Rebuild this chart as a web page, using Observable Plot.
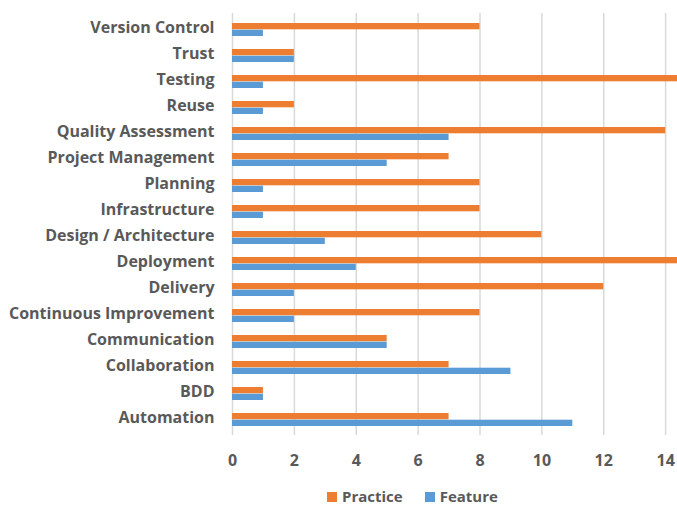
<!DOCTYPE html>
<html>
<head>
<meta charset="utf-8">
<script src="https://cdn.jsdelivr.net/npm/d3@7"></script>
<script src="https://cdn.jsdelivr.net/npm/@observablehq/plot@0.6"></script>
<style>
  html, body { margin: 0; padding: 0; background: #fff; overflow: hidden; }
  #wrap { width: 740px; }
  #chart svg { display: block; }
  .legend { margin-left: 327px; height: 19px; line-height: 19px; display: flex; align-items: center;
            font-family: "Open Sans", sans-serif; font-size: 15px; font-weight: bold; color: #595959; white-space: nowrap; }
  .legend .sw { display: inline-block; width: 10px; height: 10px; margin-right: 5px; }
  .legend .item { display: inline-flex; align-items: center; margin-right: 22px; }
</style>
</head>
<body>
<div id="wrap">
  <div id="chart"></div>
  <div class="legend">
    <span class="item"><span class="sw" style="background:#ED7D31"></span>Practice</span>
    <span class="item"><span class="sw" style="background:#5B9BD5"></span>Feature</span>
  </div>
</div>
<script>
const categories = ["Version Control","Trust","Testing","Reuse","Quality Assessment","Project Management","Planning","Infrastructure","Design / Architecture","Deployment","Delivery","Continuous Improvement","Communication","Collaboration","BDD","Automation"];
const practice = [8,2,15,2,14,7,8,8,10,15,12,8,5,7,1,7];
const feature  = [1,2,1,1,7,5,1,1,3,4,2,2,5,9,1,11];
const xTicks = [0,2,4,6,8,10,12,14];

const rows = categories.map((c, i) => ({category: c, practice: practice[i], feature: feature[i]}));

const step = 26.4;
const half = step / 2;
const barH = 6.7;

const chart = Plot.plot({
  width: 740,
  height: 487,
  marginLeft: 232,
  marginRight: 13,
  marginTop: 13,
  marginBottom: 52,
  style: {fontFamily: "'Open Sans', sans-serif", color: "#595959", background: "#fff"},
  x: {domain: [0, 16], ticks: xTicks, grid: false, label: null},
  y: {domain: categories, padding: 0, label: null},
  marks: [
    Plot.ruleX(xTicks, {stroke: "#D9D9D9", strokeWidth: 1.5, strokeOpacity: 1}),
    Plot.barX(rows, {x: "practice", y: "category", fill: "#ED7D31", insetTop: half - barH + 0.5, insetBottom: half - 0.5}),
    Plot.barX(rows, {x: "feature", y: "category", fill: "#5B9BD5", insetTop: half + 0.5, insetBottom: half - barH - 0.5}),
    Plot.axisY({tickSize: 0, tickPadding: 18, dy: -1.5, fontSize: 16, fontWeight: "bold", fill: "#595959", label: null}),
    Plot.axisX(xTicks, {tickSize: 0, tickPadding: 19, fontSize: 16, fontWeight: "bold", fill: "#595959", label: null})
  ]
});
document.getElementById("chart").appendChild(chart);
</script>
</body>
</html>
